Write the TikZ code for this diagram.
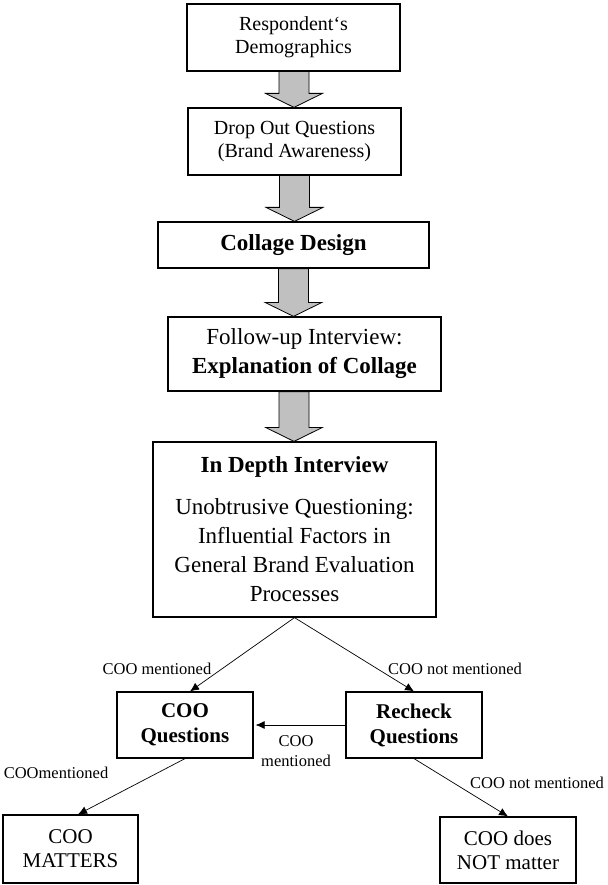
\documentclass[tikz,border=0pt]{standalone}
\usepackage{fontspec}
\setmainfont{Liberation Serif}
\usetikzlibrary{arrows.meta,calc}
\definecolor{arrowgray}{RGB}{192,192,192}
\begin{document}
\begin{tikzpicture}[x=1pt,y=-1pt,
  box/.style={draw, line width=1.2pt, fill=white, inner sep=0pt, align=center},
  fsmall/.style={font=\fontsize{20}{23}\selectfont},
  flarge/.style={font=\fontsize{23}{29}\selectfont},
  fbottom/.style={font=\fontsize{21}{24}\selectfont},
  fquest/.style={font=\fontsize{21}{25}\selectfont\bfseries},
  lbl/.style={font=\fontsize{16.5}{20}\selectfont, inner sep=0pt, align=center},
  flow/.style={line width=0.7pt, -{Latex[length=9pt,width=8pt]}},
  blockarrow/.style={draw=black, line width=0.8pt, fill=arrowgray,
    to path={let \p1=(\tikztostart), \p2=(\tikztotarget) in
      (\x1-15pt,\y1) -- (\x1-15pt,\y2+14pt) -- (\x1-28.5pt,\y2+14pt) -- (\x1,\y2)
      -- (\x1+28.5pt,\y2+14pt) -- (\x1+15pt,\y2+14pt) -- (\x1+15pt,\y1) -- cycle}}
]
\useasboundingbox (0,0) rectangle (607,885);

% main sequence of steps
\node[box, fsmall, minimum width=213, minimum height=67] (b1) at (293.5,37.5)
  {Respondent‘s\\Demographics};
\node[box, fsmall, minimum width=213, minimum height=67] (b2) at (294.5,141.5)
  {Drop Out Questions\\(Brand Awareness)};
\node[box, flarge, minimum width=271, minimum height=46] (b3) at (293.5,245)
  {\textbf{Collage Design}};
\node[box, flarge, minimum width=273, minimum height=74] (b4) at (304.5,354)
  {Follow-up Interview:\\\textbf{Explanation of Collage}};
\node[box, flarge, minimum width=283, minimum height=175] (b5) at (294.5,529.5)
  {\textbf{In Depth Interview}\\[13pt]Unobtrusive Questioning:\\Influential Factors in\\General Brand Evaluation\\Processes};

% branches
\node[box, fquest, minimum width=136, minimum height=66] (coo) at (185,725)
  {COO\\Questions};
\node[box, fquest, minimum width=136, minimum height=66] (rec) at (414,725)
  {Recheck\\Questions};
\node[box, fbottom, minimum width=135, minimum height=68] (yes) at (70.5,849)
  {COO\\MATTERS};
\node[box, fbottom, minimum width=136, minimum height=66] (no) at (508,850)
  {COO does\\NOT matter};

% block arrows between the steps
\draw[blockarrow] ($(b1.south)+(0.5,0)$) to (b2.north);
\draw[blockarrow] (b2.south) to (b3.north);
\draw[blockarrow] (b3.south) to ($(b4.north)+(-10.5,0)$);
\draw[blockarrow] ($(b4.south)+(-10.5,0)$) to (b5.north);

% decision connectors
\draw[flow] (b5.south) -- ($(coo.north)+(5,0)$);
\draw[flow] (b5.south) -- (rec.north);
\draw[flow] (rec.west) -- ($(coo.east)+(2,0)$);
\draw[flow] (coo.south) -- ($(yes.north)+(7.5,0)$);
\draw[flow] (rec.south) -- (no.north);

% connector labels
\node[lbl] (l1) at (157,669) {COO mentioned};
\node[lbl] (l2) at (455,669) {COO not mentioned};
\node[lbl] (l3) at (296,751) {COO\\mentioned};
\node[lbl] (l4) at (56,773) {COOmentioned};
\node[lbl] (l5) at (537,783) {COO not mentioned};
\end{tikzpicture}
\end{document}
